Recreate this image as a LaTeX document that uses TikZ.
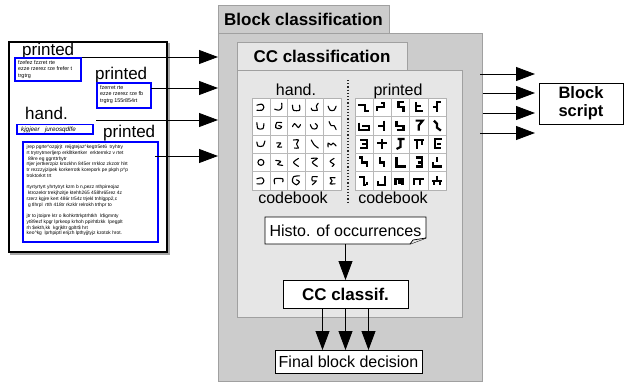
\documentclass[tikz,border=0pt]{standalone}
\usepackage{fontspec}
\setmainfont{Liberation Sans}
\usetikzlibrary{arrows.meta,calc}
\definecolor{outerg}{HTML}{CCCCCC}
\definecolor{innerg}{HTML}{E6E6E6}
\definecolor{edgeg}{HTML}{A0A0A0}
\definecolor{docblue}{HTML}{0000FF}
\begin{document}
\begin{tikzpicture}[x=1pt,y=-1pt,
  big/.style={-{Triangle[length=19pt,width=14pt]}, line width=0.8pt},
  panel/.style={inner sep=0pt, outer sep=0pt, anchor=north west},
  boxn/.style={draw, line width=0.9pt, fill=white, inner sep=0pt, outer sep=0pt},
  bluebox/.style={draw=docblue, line width=1.6pt, inner sep=0pt, outer sep=0pt, anchor=north west},
  small/.style={font=\fontsize{5.4}{6.3}\selectfont, align=left, inner sep=0pt, anchor=north west},
  lab/.style={font=\fontsize{17}{17}\selectfont, inner sep=0pt, anchor=base west},
  cbl/.style={font=\fontsize{16}{16}\selectfont, inner sep=0pt, anchor=base},
  hg/.style={line width=1.1pt, line cap=round, line join=round},
  pg/.style={line width=2.2pt},
  cellH/.style 2 args={shift={({8.9+17.8*#2},{9.2+18.4*#1})}},
  cellP/.style 2 args={shift={({9.1+18.2*#2},{9.2+18.4*#1})}}
]
\useasboundingbox (0,0) rectangle (624,381);

% ---------- outer block ----------
\node[panel, fill=outerg, draw=edgeg, minimum width=264, minimum height=348] (outer) at (218,33) {};
\node[panel, anchor=south west, fill=outerg, draw=edgeg, minimum width=171, minimum height=28,
      font=\bfseries\fontsize{17}{17}\selectfont] (outtab) at (218,33) {Block classification};
% ---------- inner block ----------
\node[panel, fill=innerg, draw=edgeg, minimum width=225, minimum height=247] (inner) at (237,70) {};
\node[panel, anchor=south west, fill=innerg, draw=edgeg, minimum width=170, minimum height=28,
      font=\bfseries\fontsize{17}{17}\selectfont] (intab) at (237,70) {CC classification};

% ---------- codebooks ----------
\node[panel, fill=white, draw=gray!60, minimum width=89, minimum height=92] (hgrid) at (252,98) {};
\node[panel, fill=white, draw=gray!60, minimum width=91, minimum height=92] (pgrid) at (355,98) {};
\foreach \i in {1,2,3,4}{
  \draw[gray!55, line width=0.5pt] ($(252,98)+(17.8*\i,0)$) -- ++(0,92);
  \draw[gray!55, line width=0.5pt] ($(252,98)+(0,18.4*\i)$) -- ++(89,0);
  \draw[gray!55, line width=0.5pt] ($(355,98)+(18.2*\i,0)$) -- ++(0,92);
  \draw[gray!55, line width=0.5pt] ($(355,98)+(0,18.4*\i)$) -- ++(91,0);
}
\node[cbl] (hlab) at (296,95) {hand.};
\node[cbl] (plab) at (398,95) {printed};
\node[cbl] (hcb) at (293,203) {codebook};
\node[cbl] (pcb) at (393,203) {codebook};
\coordinate (sepT) at (348,80);
\coordinate (sepB) at (348,204);
\draw[gray!30!black, line width=1.2pt, dotted] (sepT) -- (sepB);

% hand glyphs
\begin{scope}[shift={(252,98)}]
\draw[hg,cellH={0}{0}] plot[smooth] coordinates {(-4,-2) (1,-3) (3,0) (1,3) (-4,3)};
\draw[hg,cellH={0}{1}] plot[smooth] coordinates {(3,-4) (3,1) (0,3) (-4,2)};
\draw[hg,cellH={0}{2}] plot[smooth] coordinates {(-4,-2) (-3,3) (3,3) (3,-2)};
\draw[hg,cellH={0}{3}] plot[smooth] coordinates {(-3,1) (-2,3) (3,3) (2,-1) (4,-4)};
\draw[hg,cellH={0}{4}] plot[smooth] coordinates {(-4,-1) (-2,3) (2,3) (4,-1)};
\draw[hg,cellH={1}{0}] plot[smooth] coordinates {(-4,-3) (-3,3) (2,3) (3,-2)};
\draw[hg,cellH={1}{1}] plot[smooth] coordinates {(3,-3) (-2,-3) (-3,2) (1,3) (3,1) (0,0)};
\draw[hg,cellH={1}{2}] plot[smooth] coordinates {(-4,1) (-2,-2) (0,0) (2,2) (4,-1)};
\draw[hg,cellH={1}{3}] plot[smooth] coordinates {(-4,-1) (-2,3) (2,3) (3,0) (1,-2)};
\draw[hg,cellH={1}{4}] plot[smooth] coordinates {(-3,-4) (-1,0) (2,0) (4,4)};
\draw[hg,cellH={2}{0}] plot[smooth] coordinates {(-4,-2) (-3,2) (2,2) (4,-3)};
\draw[hg,cellH={2}{1}] plot[smooth] coordinates {(-2,-1) (2,-1) (-1,3) (3,3)};
\draw[hg,cellH={2}{2}] plot[smooth] coordinates {(-3,-4) (2,-4) (0,0) (2,4) (-2,4)};
\draw[hg,cellH={2}{3}] plot[smooth] coordinates {(-3,-4) (0,1) (4,4)};
\draw[hg,cellH={2}{4}] plot[smooth] coordinates {(-4,3) (-4,-1) (-1,1) (1,-1) (4,2)};
\draw[hg,cellH={3}{0}] (0,0) circle (3);
\draw[hg,cellH={3}{1}] plot[smooth] coordinates {(-3,-2) (2,-1) (-1,2) (4,3)};
\draw[hg,cellH={3}{2}] plot[smooth] coordinates {(2,-4) (-3,0) (2,4)};
\draw[hg,cellH={3}{3}] plot[smooth] coordinates {(-3,-4) (3,-4) (-2,0) (3,4)};
\draw[hg,cellH={3}{4}] plot[smooth] coordinates {(2,-4) (-2,-1) (2,2) (0,4)};
\draw[hg,cellH={4}{0}] plot[smooth] coordinates {(-4,-2) (1,-3) (3,0) (1,3) (-4,3)};
\draw[hg,cellH={4}{1}] plot[smooth] coordinates {(-4,3) (-4,-2) (4,-2) (4,1)};
\draw[hg,cellH={4}{2}] plot[smooth] coordinates {(3,-5) (-3,-4) (-4,1) (0,4) (3,1) (0,-1)};
\draw[hg,cellH={4}{3}] plot[smooth] coordinates {(3,-4) (-2,-4) (-2,0) (2,0) (-2,4)};
\draw[hg,cellH={4}{4}] plot[smooth] coordinates {(3,-3) (-2,-3) (0,0) (-2,3) (3,3)};
\end{scope}

% printed glyphs
\begin{scope}[shift={(355,98)}]
\draw[pg,cellP={0}{0}] (-6,-2)--(1,-2)--(1,4)--(5,4);
\draw[pg,cellP={0}{1}] (-5,4)--(-5,0)--(2,0)--(2,-5) (-1,-4)--(2,-4);
\draw[pg,cellP={0}{2}] (3,-5)--(-2,-5)--(-2,0)--(3,0)--(3,5);
\draw[pg,cellP={0}{3}] (-3,-5)--(-3,4)--(4,4) (-3,-1)--(2,-1);
\draw[pg,cellP={0}{4}] (4,-5)--(0,-5)--(0,5) (-4,0)--(0,0);
\draw[pg,cellP={1}{0}] (-5,-3)--(-5,4)--(5,4)--(5,0)--(-2,0);
\draw[pg,cellP={1}{1}] (2,-5)--(2,5) (-4,0)--(2,0);
\draw[pg,cellP={1}{2}] (-4,-5)--(-4,0)--(3,0)--(3,4)--(-4,4);
\draw[pg,cellP={1}{3}] (-3,-5)--(4,-5)--(0,0)--(0,5);
\draw[pg,cellP={1}{4}] (-3,-5)--(0,-2)--(0,2)--(4,5);
\draw[pg,cellP={2}{0}] (-4,-4)--(3,-4)--(3,4)--(-4,4) (-2,0)--(3,0);
\draw[pg,cellP={2}{1}] (0,-5)--(0,5) (-5,-1)--(5,-1);
\draw[pg,cellP={2}{2}] (-3,-5)--(4,-5) (0,-5)--(0,3)--(-4,5);
\draw[pg,cellP={2}{3}] (-5,-4)--(5,-4) (-2,-4)--(-2,5) (3,-4)--(3,1);
\draw[pg,cellP={2}{4}] (5,-5)--(-2,-5)--(-2,4)--(4,4) (0,0)--(4,0);
\draw[pg,cellP={3}{0}] (-5,-5)--(-2,-5)--(-2,0)--(3,0)--(3,5);
\draw[pg,cellP={3}{1}] (-2,-5)--(-2,0)--(2,0)--(2,5);
\draw[pg,cellP={3}{2}] (-4,-5)--(-4,4)--(5,4);
\draw[pg,cellP={3}{3}] (-3,-5)--(3,-5)--(3,4)--(-3,4) (-1,0)--(3,0);
\draw[pg,cellP={3}{4}] (0,-5)--(0,0) (-4,0)--(-4,4)--(5,4);
\draw[pg,cellP={4}{0}] (-5,-4)--(0,-4)--(0,4)--(2,4) (3,1)--(3,4);
\draw[pg,cellP={4}{1}] (3,-5)--(3,4)--(-4,4)--(-4,0);
\draw[pg,cellP={4}{2}] (-5,4)--(-5,-2)--(2,-2)--(2,4) (-1,-2)--(-1,3);
\draw[pg,cellP={4}{3}] (-5,4)--(-5,-2)--(5,-2) (1,-2)--(1,4);
\draw[pg,cellP={4}{4}] (-5,0)--(5,0) (0,-5)--(0,0) (-3,0)--(-3,4) (3,0)--(3,4);
\end{scope}

% ---------- histogram, classifier, decision ----------
\node[panel, minimum width=161, minimum height=27] (histo) at (265,217) {};
\draw[line width=0.9pt, fill=white] (265,217) -- (426,217) -- (426,238) -- (410,244) -- (265,244) -- cycle;
\draw[line width=0.7pt, fill=innerg] (410,244) -- (413,240) -- (426,238);
\node[font=\fontsize{16}{16}\selectfont, inner sep=0pt] (histot) at (345.5,230.5) {Histo. of occurrences};
\node[boxn, minimum width=125, minimum height=28, font=\bfseries\fontsize{17}{17}\selectfont] (ccl) at (345.5,294) {CC classif.};
\node[boxn, minimum width=147, minimum height=23, font=\fontsize{16}{16}\selectfont] (final) at (348.5,361.5) {Final block decision};
\draw[big] (histo.south) -- (ccl.north);
\draw[big] ([xshift=-23pt]ccl.south) -- ([xshift=-23pt]ccl.south |- final.north);
\draw[big] (ccl.south) -- (ccl.south |- final.north);
\draw[big] ([xshift=23pt]ccl.south) -- ([xshift=23pt]ccl.south |- final.north);

% ---------- block script ----------
\node[boxn, minimum width=84, minimum height=41, align=center,
      font=\bfseries\fontsize{16.5}{18}\selectfont] (script) at (581,103.5) {Block\\script};
\coordinate (r1) at (480,74);
\coordinate (r2) at (483,93);
\coordinate (r3) at (483,113);
\coordinate (r4) at (480,133);
\foreach \r in {r1,r2,r3,r4}{
  \draw[big, shorten >=4pt] (\r) -- (\r -| script.west);
}

% ---------- document ----------
\draw[gray!70, line width=1.4pt] (11,44) rectangle (169,254);
\node[panel, draw, line width=1.4pt, fill=white, minimum width=158, minimum height=210] (doc) at (9,42) {};

\node[lab] (p1) at (22,55) {printed};
\node[bluebox, minimum width=66, minimum height=23] (b1) at (15,58) {};
\node[small] (t1) at (18,60.5) {fzefez fzzret rte\\ezze rzerez rze frefer t\\trgtrg};

\node[lab] (p2) at (95,79) {printed};
\node[bluebox, minimum width=54, minimum height=25] (b2) at (97,83) {};
\node[small] (t2) at (100,85.5) {fzerret rte\\ezze rzerez rze fb\\trgtrg 155r854rt};

\node[lab] (h3) at (25,119) {hand.};
\node[bluebox, minimum width=76, minimum height=9.5] (b3) at (17,124.5) {};
\node[small, font=\itshape\fontsize{6.3}{6.5}\selectfont] (t3) at (21,126.3) {kjgjeer\ \ \ jureosqdlfe};

\node[lab] (p4) at (103,137) {printed};
\node[bluebox, minimum width=135, minimum height=100] (b4) at (23,142) {};
\node[small, font=\fontsize{4.85}{5.75}\selectfont] (t4) at (26.5,145) {%
jrep pgrte\textasciicircum ozpjrjt\ \ reijgtejaz\textasciicircum kegtr5et6\ \ tryhtry\\
rt trytrytrnerljerp erklltkertker\ \ erktermkz v rtet\\
\ 89re eg ggrrttrhytr\\
rtjer jertkerzpiz krozkhn 845er rrrkloz zkzotr hlrt\\
tr rezzzyjzipek korkerrotk korepork pe pkph p\textasciicircum p\\
troktorkrt trt\\[5.75pt]
rtyrtyrtyrt yhrtytryt kzm b n,pezz nthpireojaz\\
\ ktrozektr trekjhzitje ktehh265 458hr65rez 4z\\
rzerz kgjre kert 486r tr54z trjekl tnhlgpp2,c\\
\ g tlhrpl\ \ rtth 418tr rkzklr relrokh trthpr to\\[5.75pt]
jtr to jtoipre ktr o lkohkrttrkptrhtkh\ \ lr\$gmnty\\
yt89ezf kpgr lprkeop krhoh ppirhtlzkk\ \ lpegplt\\
rh \$ekth,kk\ \ kgrjkltr gpltr\$ hrt\\
keo\textasciicircum kg\ \ lprhpiptl erijzh lpthyjjtyjz kzotok hrot.};

\coordinate (a1) at (82,57);
\coordinate (a2) at (b2.east |- 0,88);
\coordinate (a3) at (96,120);
\coordinate (a4) at (155,156);
\foreach \a in {a1,a2,a3,a4}{
  \draw[big] (\a) -- (\a -| outer.west);
}
\end{tikzpicture}
\end{document}
